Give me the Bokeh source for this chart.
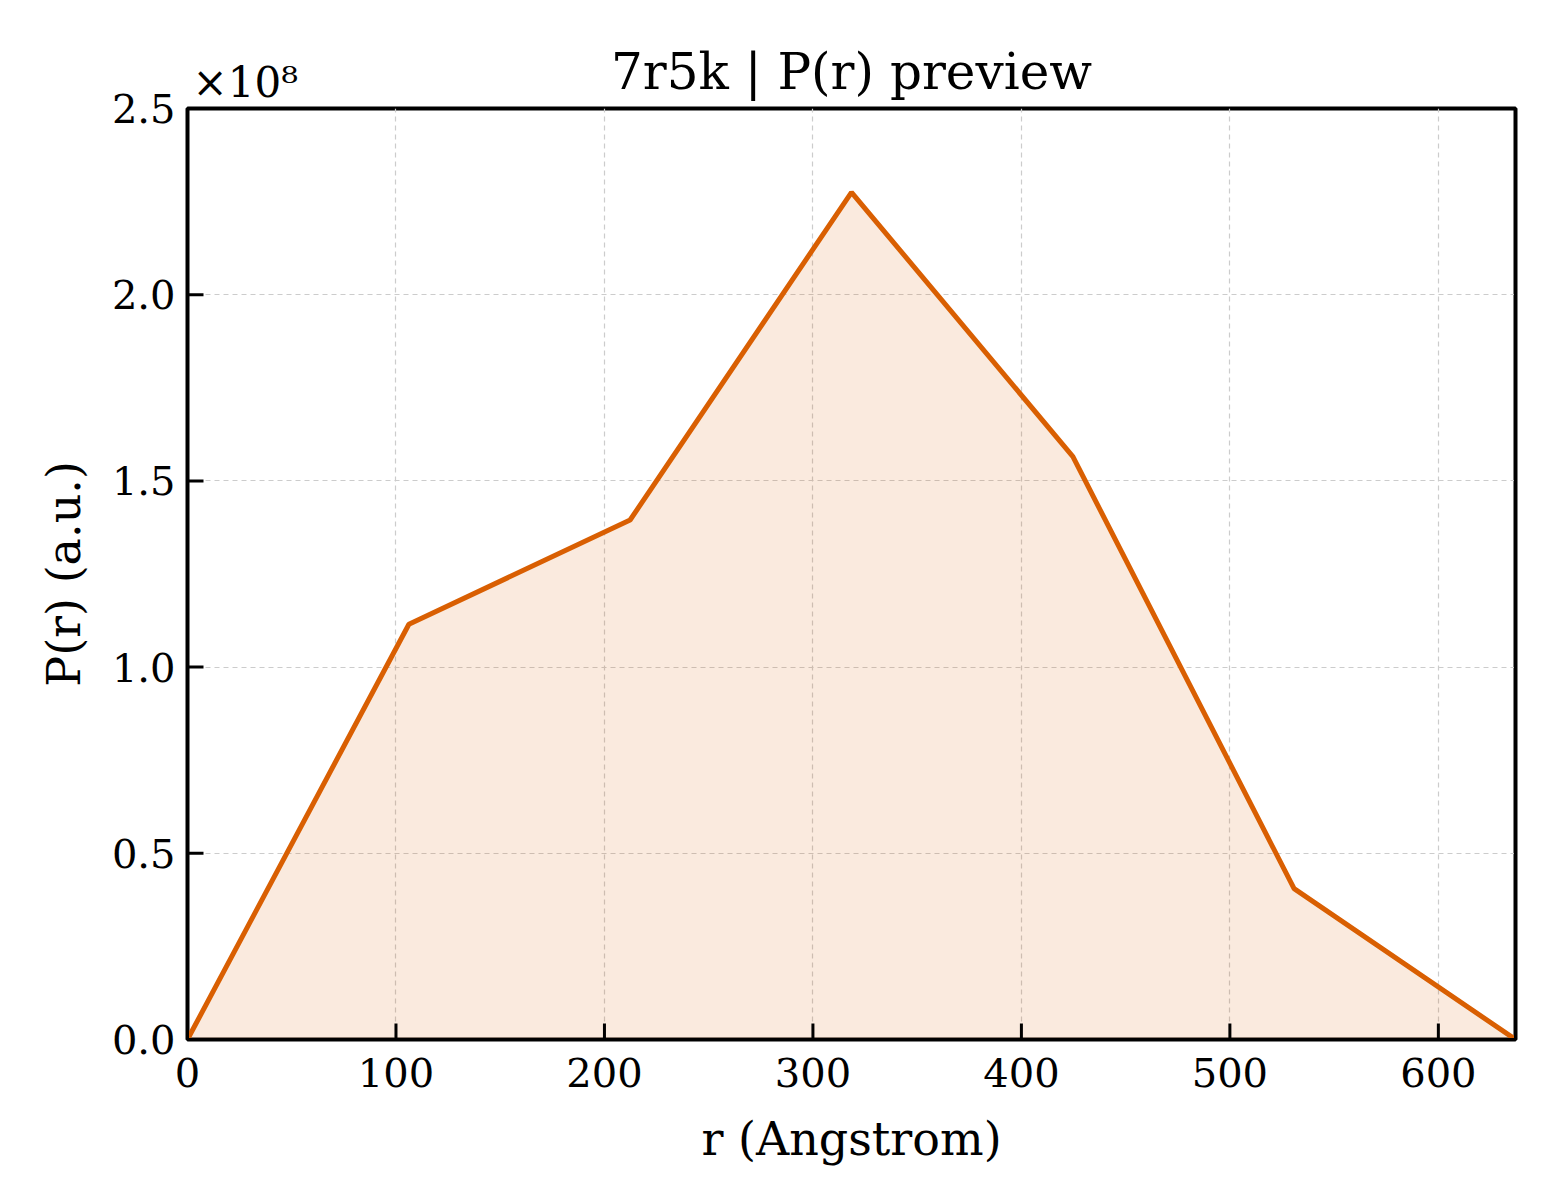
import numpy as np

from bokeh.plotting import figure
from bokeh.models import (Range1d, FixedTicker, CustomJSTickFormatter, Title,
                          LinearAxis, BoxAnnotation)
from bokeh.embed import file_html
from bokeh.resources import INLINE

# P(r) samples
r = [0, 106.2, 212.3, 318.5, 424.7, 530.8, 637.0]
pr = [0.0, 1.115e8, 1.395e8, 2.275e8, 1.565e8, 0.405e8, 0.0]

x_ticks = [0, 100, 200, 300, 400, 500, 600]
y_ticks = [0.0, 0.5e8, 1.0e8, 1.5e8, 2.0e8, 2.5e8]

FONT = "DejaVu Serif"
ORANGE = "#D95F02"

p = figure(frame_width=1328, frame_height=931,
           x_range=Range1d(0, 637), y_range=Range1d(0, 2.5e8),
           output_backend="svg", toolbar_location=None,
           min_border_left=187, min_border_top=108,
           min_border_right=40, min_border_bottom=156)

p.background_fill_color = "white"
p.border_fill_color = "white"
p.outline_line_color = "black"
p.outline_line_width = 4

# title, then the offset text pulled down beside it (negative standoff)
p.add_layout(Title(text="7r5k | P(r) preview", align="center", text_font=FONT,
                   text_font_size="50px", text_font_style="normal",
                   text_color="black", standoff=16), "above")
p.add_layout(Title(text="×10⁸", align="left", offset=5, text_font=FONT,
                   text_font_size="42px", text_font_style="normal",
                   text_color="black", standoff=-148), "above")

# grid
p.grid.grid_line_color = "#cccccc"
p.grid.grid_line_dash = "5 4"
p.grid.grid_line_width = 1.2
p.xgrid.ticker = FixedTicker(ticks=x_ticks)
p.ygrid.ticker = FixedTicker(ticks=y_ticks)

xa = p.below[0]
ya = p.left[0]
xa.ticker = FixedTicker(ticks=x_ticks)
ya.ticker = FixedTicker(ticks=y_ticks)
ya.formatter = CustomJSTickFormatter(code="return (tick / 1e8).toFixed(1);")
xa.axis_label = "r (Angstrom)"
ya.axis_label = "P(r) (a.u.)"
for ax in (xa, ya):
    ax.axis_line_width = 3
    ax.axis_line_color = "black"
    ax.major_tick_in = 0
    ax.major_tick_out = 0
    ax.minor_tick_line_color = None
    ax.major_label_text_font = FONT
    ax.major_label_text_font_size = "40px"
    ax.major_label_text_color = "black"
    ax.axis_label_text_font = FONT
    ax.axis_label_text_font_size = "46px"
    ax.axis_label_text_font_style = "normal"
    ax.axis_label_text_color = "black"
xa.major_label_standoff = 18
ya.major_label_standoff = 12
xa.axis_label_standoff = 22
ya.axis_label_standoff = 18

# plain axis on the right to close the box
p.add_layout(LinearAxis(ticker=FixedTicker(ticks=[]), axis_line_width=3,
                        axis_line_color="black", major_tick_line_color=None,
                        minor_tick_line_color=None), "right")

# filled area + curve
p.varea(x=r, y1=0, y2=pr, fill_color=ORANGE, fill_alpha=0.13)
p.line(r, pr, line_color=ORANGE, line_width=5)

# inward tick marks (16 px long, 3 px wide) as small filled boxes
tick_dy = 16 / 931 * 2.5e8
tick_dx = 16 / 1328 * 637
half_w = 1.5 / 1328 * 637
half_h = 1.5 / 931 * 2.5e8
for t in x_ticks:
    p.add_layout(BoxAnnotation(left=t - half_w, right=t + half_w, bottom=0, top=tick_dy,
                               fill_color="black", fill_alpha=1.0, line_color=None))
for t in y_ticks:
    p.add_layout(BoxAnnotation(left=0, right=tick_dx, bottom=t - half_h, top=t + half_h,
                               fill_color="black", fill_alpha=1.0, line_color=None))

open("out.html", "w").write(file_html(p, INLINE))
